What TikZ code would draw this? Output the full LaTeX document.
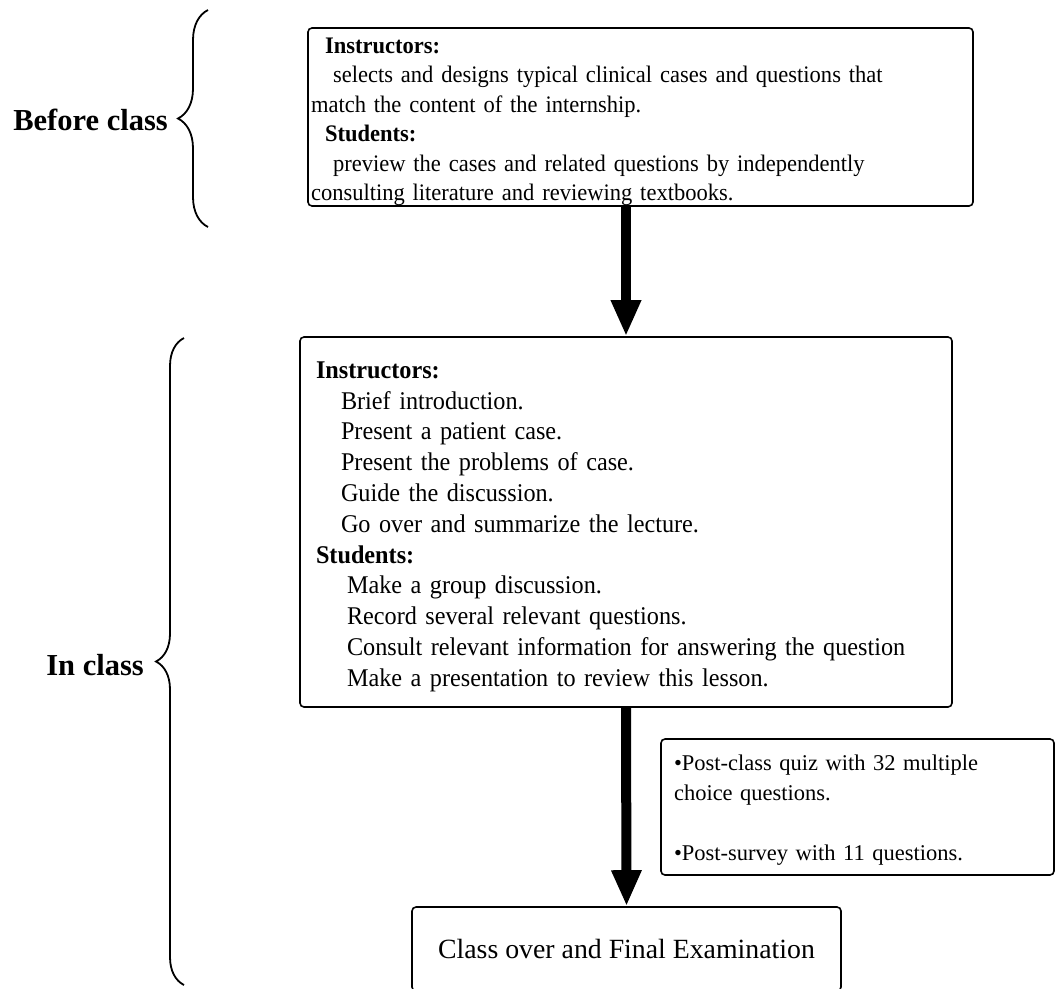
\documentclass[tikz,border=0pt]{standalone}
\usepackage{fontspec}
\setmainfont{Liberation Serif}
\newfontfamily\narrowserif{Liberation Serif}[FakeStretch=0.95]
\usetikzlibrary{arrows.meta,decorations.pathreplacing}

\begin{document}
\begin{tikzpicture}
[x=1pt, y=-1pt, every node/.style={inner sep=0pt}]
\useasboundingbox (0,0) rectangle (1056,988);
\node (1) [rectangle, rounded corners=4pt, draw=black, line width=1.6pt, minimum width=665pt, minimum height=178pt, inner xsep=3pt, text width=659pt, align=left, font=\narrowserif\fontsize{23.7}{29.4}\selectfont] at (640.5, 117) {\rule{0pt}{25pt}\hspace*{14pt}\textbf{Instructors:}\\\hspace*{22pt}selects and designs typical clinical cases and questions that\\match the content of the internship.\\\hspace*{14pt}\textbf{Students:}\\\hspace*{22pt}preview the cases and related questions by independently\\consulting literature and reviewing textbooks.};
\node (2) [rectangle, rounded corners=4pt, draw=black, line width=1.6pt, minimum width=652pt, minimum height=370pt, inner xsep=16pt, text width=620pt, align=left, font=\narrowserif\fontsize{25.5}{30.8}\selectfont] at (626, 522) {\rule{0pt}{26pt}\textbf{Instructors:}\\\hspace*{25pt}Brief introduction.\\\hspace*{25pt}Present a patient case.\\\hspace*{25pt}Present the problems of case.\\\hspace*{25pt}Guide the discussion.\\\hspace*{25pt}Go over and summarize the lecture.\\\textbf{Students:}\\\hspace*{31pt}Make a group discussion.\\\hspace*{31pt}Record several relevant questions.\\\hspace*{31pt}Consult relevant information for answering the question\\\hspace*{31pt}Make a presentation to review this lesson.};
\node (3) [rectangle, rounded corners=4pt, draw=black, line width=1.6pt, minimum width=393pt, minimum height=136pt, inner xsep=13pt, text width=367pt, align=left, font=\fontsize{22.5}{30.2}\selectfont] at (857.5, 807) {\rule{0pt}{22pt}•Post-class quiz with 32 multiple\\choice questions.\\~\\•Post-survey with 11 questions.};
\node (4) [rectangle, rounded corners=4pt, draw=black, line width=1.6pt, minimum width=429pt, minimum height=84pt, font=\fontsize{27.8}{32}\selectfont] at (626.5, 949) {Class over and Final Examination};
\node (before) [anchor=east, font=\fontsize{30.5}{36}\selectfont\bfseries] at (168, 120) {Before class};
\node (inclass) [anchor=east, font=\fontsize{30.5}{36}\selectfont\bfseries] at (144, 665) {In class};
\coordinate (b1top) at (208, 10);
\coordinate (b1bot) at (208, 227);
\coordinate (b2top) at (184, 338);
\coordinate (b2bot) at (184, 985);
\draw [line width=1.8pt, decorate, decoration={brace, amplitude=30pt}] (b1bot) -- (b1top);
\draw [line width=1.8pt, decorate, decoration={brace, amplitude=28pt}] (b2bot) -- (b2top);
\draw [line width=10pt, -{Triangle[width=28pt, length=36pt]}, color=black] (1.south -| 2.north) to (2.north);
\draw [line width=10pt, -{Triangle[width=28pt, length=36pt]}, color=black] (2.south) to (4.north);
\end{tikzpicture}
\end{document}
